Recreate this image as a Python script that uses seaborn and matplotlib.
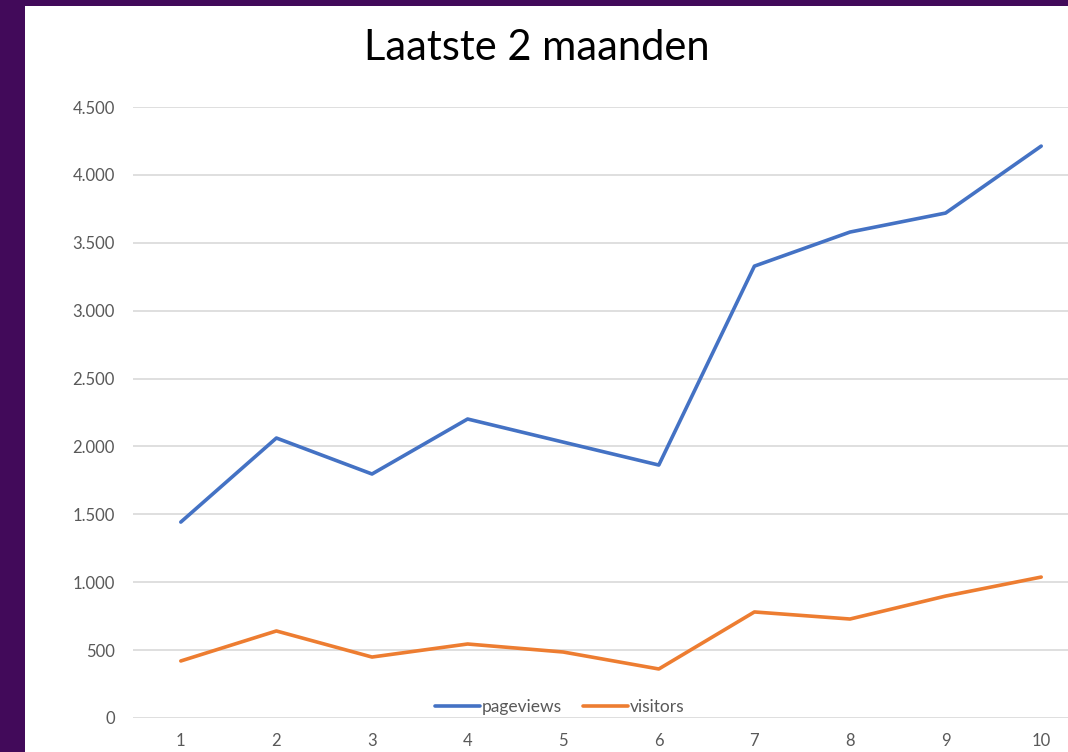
import matplotlib
matplotlib.use("Agg")
import matplotlib.pyplot as plt
import matplotlib.ticker as mticker
from matplotlib.patches import Rectangle
from matplotlib.lines import Line2D
import seaborn as sns
import pandas as pd

days = [1, 2, 3, 4, 5, 6, 7, 8, 9, 10]
pageviews = [1443, 2062, 1797, 2202, 2032, 1863, 3328, 3579, 3719, 4212]
visitors = [420, 641, 449, 545, 486, 361, 781, 729, 898, 1038]
series_names = ["pageviews", "visitors"]
colors = ["#4472C4", "#ED7D31"]
y_ticks = [0, 500, 1000, 1500, 2000, 2500, 3000, 3500, 4000, 4500]

df = pd.DataFrame({
    "dag": days * 2,
    "waarde": pageviews + visitors,
    "reeks": [series_names[0]] * len(days) + [series_names[1]] * len(days),
})

sns.set_theme(style="white")
plt.rcParams["font.family"] = ["Lato", "DejaVu Sans"]

W, H = 1068, 752
fig = plt.figure(figsize=(W / 100, H / 100), dpi=100, facecolor="#420A5A")
bg = Rectangle((25 / W, 0), 1, (H - 6) / H, transform=fig.transFigure,
               facecolor="white", edgecolor="none", zorder=-10)
fig.patches.append(bg)

ax = fig.add_axes([133 / W, (H - 718) / H, (1089 - 133) / W, (718 - 107) / H])
ax.set_facecolor("none")
ax.set_zorder(1)

sns.lineplot(data=df, x="dag", y="waarde", hue="reeks", palette=colors,
             linewidth=2.6, ax=ax, legend=False, zorder=3)

ax.set_xlim(0.5, 10.5)
ax.set_ylim(0, 4500)
ax.set_yticks(y_ticks)
ax.set_xticks(days)
ax.yaxis.set_major_formatter(mticker.FuncFormatter(lambda v, p: f"{int(v):,}".replace(",", ".")))
ax.grid(axis="y", color="#D9D9D9", linewidth=1.2)
ax.grid(axis="x", visible=False)
for s in ax.spines.values():
    s.set_visible(False)
ax.tick_params(axis="y", length=0, pad=13, labelsize=12, labelcolor="#595959")
ax.tick_params(axis="x", length=0, pad=11, labelsize=12, labelcolor="#595959")
ax.set_xlabel("")
ax.set_ylabel("")

fig.text(537 / W, 1 - 48 / H, "Laatste 2 maanden", ha="center", va="center",
         fontsize=30, color="black")

handles = [Line2D([0], [0], color=c, linewidth=2.6) for c in colors]
leg = fig.legend(handles, series_names, loc="center", bbox_to_anchor=(560 / W, 1 - 707 / H),
                 ncol=2, frameon=False, fontsize=12.5, labelcolor="#595959",
                 handlelength=2.6, handletextpad=0.1, columnspacing=1.2, borderpad=0)
leg.set_zorder(5)

fig.savefig("out.png", dpi=100, facecolor=fig.get_facecolor())
